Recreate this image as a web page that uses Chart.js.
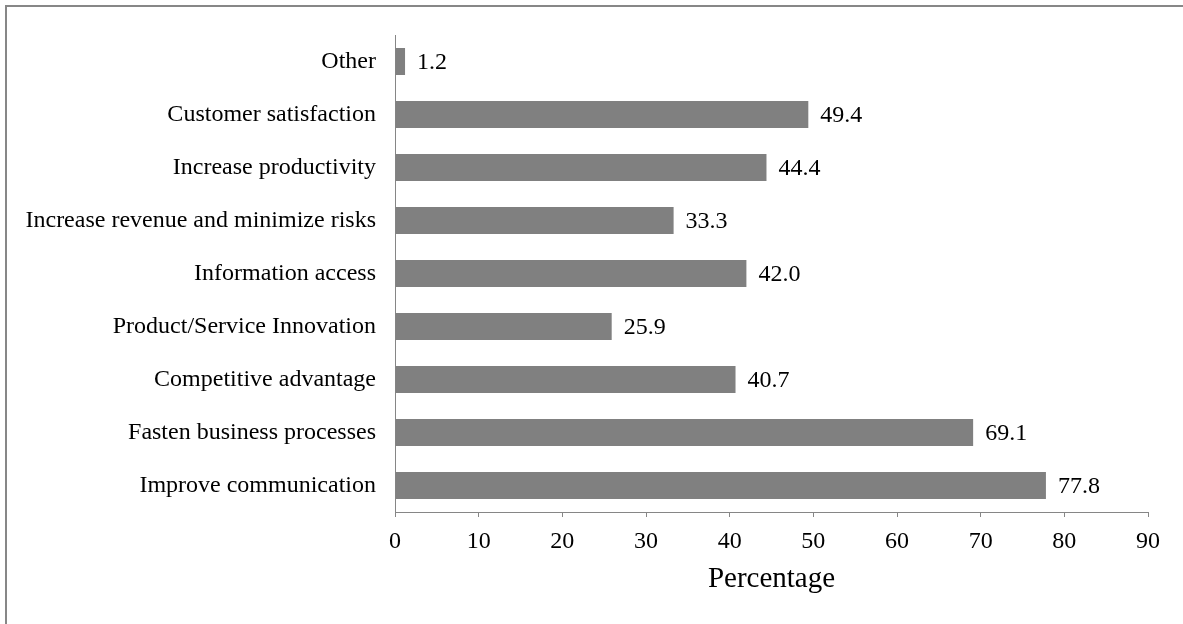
<!DOCTYPE html>
<html>
<head>
<meta charset="utf-8">
<script src="https://cdn.jsdelivr.net/npm/chart.js@4/dist/chart.umd.min.js"></script>
<style>
  html, body { margin: 0; padding: 0; background: #fff; overflow: hidden; }
  #wrap { position: relative; width: 1183px; height: 624px; }
  #frame {
    position: absolute; left: 5px; top: 5px; width: 1300px; height: 700px;
    border-top: 2px solid #878787; border-left: 2px solid #878787;
    pointer-events: none;
  }
  canvas { position: absolute; left: 0; top: 0; }
</style>
</head>
<body>
<div id="wrap">
  <div id="frame"></div>
  <canvas id="c" width="1183" height="624"></canvas>
</div>
<script>
// Reasons for adopting the system, share of respondents (%)
const categories = [
  'Other',
  'Customer satisfaction',
  'Increase productivity',
  'Increase revenue and minimize risks',
  'Information access',
  'Product/Service Innovation',
  'Competitive advantage',
  'Fasten business processes',
  'Improve communication'
];
const percentages = [1.2, 49.4, 44.4, 33.3, 42.0, 25.9, 40.7, 69.1, 77.8];
const xTicks = [0, 10, 20, 30, 40, 50, 60, 70, 80, 90];
const axisTitle = 'Percentage';

const FONT = '"Liberation Serif", "Times New Roman", serif';
const AXIS_GREY = '#868686';

// Writes each bar's value just past its end
const valueLabels = {
  id: 'valueLabels',
  afterDatasetsDraw(chart) {
    const ctx = chart.ctx;
    const meta = chart.getDatasetMeta(0);
    ctx.save();
    ctx.font = '24px ' + FONT;
    ctx.fillStyle = '#000';
    ctx.textAlign = 'left';
    ctx.textBaseline = 'middle';
    meta.data.forEach((bar, i) => {
      ctx.fillText(percentages[i].toFixed(1), bar.x + 12, bar.y + 1);
    });
    ctx.restore();
  }
};

new Chart(document.getElementById('c'), {
  type: 'bar',
  data: {
    labels: categories,
    datasets: [{
      data: percentages,
      backgroundColor: '#808080',
      borderWidth: 0,
      categoryPercentage: 1.0,
      barPercentage: 0.51
    }]
  },
  options: {
    indexAxis: 'y',
    responsive: false,
    animation: false,
    devicePixelRatio: 1,
    layout: { padding: { left: 0, top: 35, right: 35, bottom: 0 } },
    plugins: {
      legend: { display: false },
      tooltip: { enabled: false }
    },
    scales: {
      x: {
        min: 0,
        max: 90,
        afterBuildTicks(scale) {
          scale.ticks = xTicks.map(v => ({ value: v }));
        },
        afterFit(scale) { scale.height = 112; },
        grid: {
          drawOnChartArea: false,
          drawTicks: true,
          tickLength: 5,
          color: AXIS_GREY,
          lineWidth: 1
        },
        border: { display: true, color: AXIS_GREY, width: 1 },
        ticks: {
          padding: 10,
          color: '#000',
          font: { family: FONT, size: 24 },
          maxRotation: 0,
          autoSkip: false
        },
        title: {
          display: true,
          text: axisTitle,
          color: '#000',
          font: { family: FONT, size: 29 },
          padding: { top: 0, bottom: 27 }
        }
      },
      y: {
        afterFit(scale) { scale.width = 395; },
        grid: { display: false, drawTicks: false },
        border: { display: true, color: AXIS_GREY, width: 1 },
        ticks: {
          padding: 19,
          color: '#000',
          font: { family: FONT, size: 24 },
          autoSkip: false
        }
      }
    }
  },
  plugins: [valueLabels]
});
</script>
</body>
</html>
